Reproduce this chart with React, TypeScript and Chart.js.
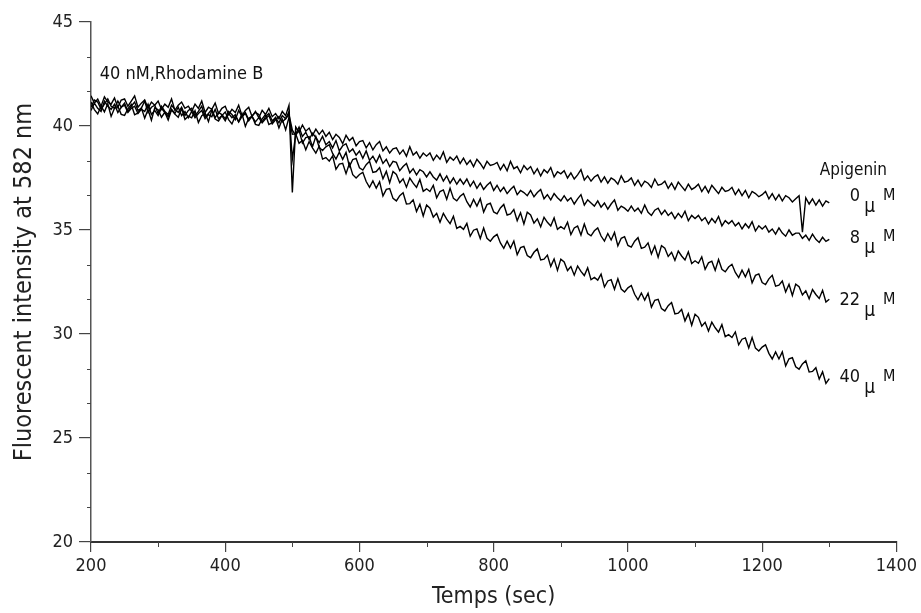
import React, { useEffect, useRef } from "react";
import { Chart, registerables } from "chart.js";

Chart.register(...registerables);

const FONT = "'DejaVu Sans Condensed', 'DejaVu Sans', sans-serif";

// sampling times (sec)
const times = [
  200, 205, 210, 215, 220, 225, 230, 235, 240, 245,
  250, 255, 260, 265, 270, 275, 280, 285, 290, 295,
  300, 305, 310, 315, 320, 325, 330, 335, 340, 345,
  350, 355, 360, 365, 370, 375, 380, 385, 390, 395,
  400, 405, 410, 415, 420, 425, 430, 435, 440, 445,
  450, 455, 460, 465, 470, 475, 480, 485, 490, 495,
  500,
  505, 510, 515, 520, 525, 530, 535, 540, 545, 550,
  555, 560, 565, 570, 575, 580, 585, 590, 595, 600,
  605, 610, 615, 620, 625, 630, 635, 640, 645, 650,
  655, 660, 665, 670, 675, 680, 685, 690, 695, 700,
  705, 710, 715, 720, 725, 730, 735, 740, 745, 750,
  755, 760, 765, 770, 775, 780, 785, 790, 795, 800,
  805, 810, 815, 820, 825, 830, 835, 840, 845, 850,
  855, 860, 865, 870, 875, 880, 885, 890, 895, 900,
  905, 910, 915, 920, 925, 930, 935, 940, 945, 950,
  955, 960, 965, 970, 975, 980, 985, 990, 995, 1000,
  1005, 1010, 1015, 1020, 1025, 1030, 1035, 1040, 1045, 1050,
  1055, 1060, 1065, 1070, 1075, 1080, 1085, 1090, 1095, 1100,
  1105, 1110, 1115, 1120, 1125, 1130, 1135, 1140, 1145, 1150,
  1155, 1160, 1165, 1170, 1175, 1180, 1185, 1190, 1195, 1200,
  1205, 1210, 1215, 1220, 1225, 1230, 1235, 1240, 1245, 1250,
  1255, 1260, 1265, 1270, 1275, 1280, 1285, 1290, 1295, 1300,
];

// Apigenin 0 µM
const apigenin0 = [
  41.45, 41.10, 41.30, 40.95, 41.40, 41.15, 41.05, 41.35, 40.90, 41.25,
  41.30, 40.95, 41.20, 41.45, 40.90, 41.10, 41.25, 40.85, 41.15, 41.00,
  41.20, 40.80, 41.05, 40.90, 41.30, 40.75, 41.00, 41.15, 40.85, 40.95,
  40.70, 41.05, 40.85, 41.20, 40.65, 40.90, 40.80, 41.10, 40.60, 40.85,
  40.95, 40.55, 40.80, 40.65, 41.00, 40.50, 40.75, 40.90, 40.45, 40.70,
  40.40, 40.75, 40.55, 40.85, 40.45, 40.60, 40.35, 40.70, 40.50, 41.00,
  36.80,
  39.95, 39.70, 40.05, 39.75, 39.90, 39.55, 39.85, 39.60, 39.80, 39.50,
  39.70, 39.35, 39.60, 39.45, 39.15, 39.55, 39.30, 39.45, 39.05, 39.25,
  39.30, 38.95, 39.20, 38.85, 39.10, 39.25, 38.80, 39.00, 38.70, 38.90,
  38.95, 38.65, 38.85, 38.55, 39.00, 38.60, 38.75, 38.45, 38.70, 38.55,
  38.70, 38.35, 38.60, 38.40, 38.75, 38.25, 38.50, 38.35, 38.55, 38.20,
  38.45, 38.15, 38.35, 38.05, 38.40, 38.20, 37.95, 38.30, 38.10, 38.15,
  38.25, 37.90, 38.15, 37.85, 38.30, 37.95, 38.05, 37.75, 38.10, 37.90,
  38.05, 37.70, 37.95, 37.60, 37.90, 37.75, 38.00, 37.55, 37.80, 37.70,
  37.85, 37.50, 37.75, 37.45, 37.65, 37.90, 37.40, 37.60, 37.35, 37.55,
  37.65, 37.30, 37.55, 37.25, 37.50, 37.40, 37.20, 37.60, 37.30, 37.35,
  37.50, 37.15, 37.40, 37.10, 37.35, 37.25, 37.05, 37.45, 37.15, 37.20,
  37.35, 37.00, 37.25, 36.95, 37.30, 37.10, 36.90, 37.20, 36.95, 37.05,
  37.20, 36.85, 37.10, 36.80, 37.15, 36.95, 36.75, 37.05, 36.85, 36.90,
  37.05, 36.70, 36.95, 36.65, 36.90, 36.55, 36.85, 36.75, 36.60, 36.70,
  36.85, 36.50, 36.75, 36.45, 36.70, 36.40, 36.65, 36.55, 36.35, 36.50,
  36.65, 34.90, 36.55, 36.25, 36.50, 36.20, 36.45, 36.15, 36.40, 36.30,
];

// Apigenin 8 µM
const apigenin8 = [
  40.90, 41.25, 41.15, 40.80, 41.05, 41.30, 40.95, 40.85, 41.20, 40.90,
  41.10, 40.70, 40.95, 41.15, 40.75, 40.85, 41.20, 40.65, 40.90, 41.00,
  40.60, 40.95, 40.70, 40.55, 41.00, 40.80, 40.65, 40.90, 40.50, 40.75,
  40.85, 40.50, 40.70, 40.95, 40.45, 40.60, 40.80, 40.40, 40.65, 40.55,
  40.35, 40.70, 40.55, 40.30, 40.75, 40.45, 40.60, 40.25, 40.50, 40.65,
  40.55, 40.20, 40.45, 40.60, 40.25, 40.40, 40.15, 40.50, 40.35, 40.70,
  38.40,
  39.60, 39.95, 39.50, 39.70, 39.35, 39.65, 39.45, 39.20, 39.50, 39.10,
  39.25, 38.95, 39.30, 38.80, 39.05, 39.15, 38.75, 38.90, 38.60, 38.80,
  38.45, 38.80, 38.35, 38.55, 38.25, 38.60, 38.20, 38.40, 38.05, 38.30,
  38.25, 37.85, 38.05, 38.20, 37.75, 37.95, 37.65, 37.90, 37.80, 37.55,
  37.80, 37.55, 37.40, 37.70, 37.35, 37.60, 37.25, 37.50, 37.20, 37.45,
  37.20, 37.45, 37.10, 37.35, 37.00, 37.25, 36.95, 37.15, 37.30, 36.90,
  37.15, 36.85, 37.05, 36.75, 36.95, 37.10, 36.70, 36.90, 36.80, 36.65,
  36.90, 36.60, 36.80, 36.95, 36.50, 36.70, 36.45, 36.75, 36.55, 36.40,
  36.65, 36.40, 36.55, 36.25, 36.50, 36.70, 36.20, 36.45, 36.30, 36.15,
  36.40, 36.10, 36.30, 36.00, 36.25, 36.45, 35.95, 36.15, 36.05, 35.90,
  36.15, 35.90, 36.05, 35.80, 36.20, 35.85, 35.70, 35.95, 36.05, 35.75,
  35.95, 35.70, 35.85, 35.55, 35.80, 35.60, 35.90, 35.45, 35.70, 35.55,
  35.70, 35.45, 35.60, 35.30, 35.55, 35.35, 35.65, 35.20, 35.45, 35.30,
  35.45, 35.20, 35.35, 35.05, 35.30, 35.10, 35.40, 34.95, 35.20, 35.05,
  35.20, 34.90, 35.05, 34.80, 35.10, 34.85, 34.70, 35.00, 34.75, 34.85,
  34.85, 34.60, 34.75, 34.50, 34.80, 34.55, 34.40, 34.65, 34.45, 34.55,
];

// Apigenin 22 µM
const apigenin22 = [
  40.75, 41.10, 40.85, 40.70, 41.20, 40.95, 40.80, 41.05, 40.65, 40.90,
  41.00, 40.65, 40.85, 40.95, 40.60, 40.80, 40.70, 41.05, 40.55, 40.75,
  40.50, 40.85, 40.65, 40.45, 40.80, 40.60, 40.90, 40.50, 40.70, 40.40,
  40.70, 40.40, 40.60, 40.75, 40.35, 40.55, 40.45, 40.80, 40.35, 40.50,
  40.25, 40.60, 40.40, 40.55, 40.20, 40.45, 40.65, 40.30, 40.45, 40.20,
  40.40, 40.15, 40.35, 40.50, 40.10, 40.30, 40.45, 40.20, 40.35, 40.55,
  39.80,
  39.55, 39.81, 39.18, 39.44, 39.49, 39.00, 39.49, 38.97, 38.82, 39.00,
  39.10, 38.68, 38.41, 38.74, 38.40, 38.73, 38.06, 38.39, 38.44, 37.99,
  37.88, 38.14, 38.30, 37.77, 37.81, 38.00, 37.46, 37.82, 37.27, 37.81,
  37.67, 37.27, 37.46, 37.06, 37.50, 37.25, 37.05, 37.43, 36.86, 36.98,
  36.85, 37.15, 36.55, 36.85, 36.93, 36.48, 37.00, 36.52, 36.40, 36.62,
  36.75, 36.36, 36.11, 36.47, 36.15, 36.51, 35.86, 36.22, 36.29, 35.87,
  35.78, 36.06, 36.23, 35.72, 35.77, 35.98, 35.45, 35.83, 35.29, 35.85,
  35.72, 35.33, 35.54, 35.15, 35.61, 35.37, 35.19, 35.58, 35.03, 35.16,
  35.05, 35.37, 34.78, 35.10, 35.19, 34.76, 35.29, 34.83, 34.72, 34.96,
  35.10, 34.71, 34.47, 34.83, 34.52, 34.88, 34.24, 34.60, 34.68, 34.26,
  34.18, 34.46, 34.63, 34.12, 34.17, 34.38, 33.85, 34.23, 33.69, 34.25,
  34.12, 33.73, 33.93, 33.54, 33.99, 33.75, 33.56, 33.95, 33.39, 33.52,
  33.40, 33.71, 33.11, 33.42, 33.50, 33.06, 33.58, 33.11, 32.99, 33.22,
  33.35, 32.96, 32.71, 33.07, 32.75, 33.11, 32.46, 32.82, 32.89, 32.47,
  32.38, 32.65, 32.82, 32.30, 32.35, 32.55, 32.02, 32.39, 31.85, 32.40,
  32.27, 31.88, 32.08, 31.69, 32.14, 31.90, 31.71, 32.10, 31.54, 31.67,
];

// Apigenin 40 µM
const apigenin40 = [
  41.15, 40.79, 40.58, 40.96, 40.68, 41.07, 40.46, 40.85, 40.95, 40.56,
  40.51, 40.82, 41.03, 40.54, 40.63, 40.87, 40.38, 40.79, 40.28, 40.87,
  40.78, 40.42, 40.66, 40.29, 40.78, 40.57, 40.42, 40.84, 40.31, 40.47,
  40.39, 40.73, 40.17, 40.50, 40.62, 40.21, 40.77, 40.33, 40.24, 40.50,
  40.67, 40.31, 40.10, 40.48, 40.20, 40.59, 39.98, 40.37, 40.47, 40.08,
  40.03, 40.34, 40.55, 40.07, 40.16, 40.40, 39.91, 40.32, 39.82, 40.41,
  39.60,
  39.62, 39.17, 39.31, 38.86, 39.25, 38.95, 38.70, 39.03, 38.41, 38.48,
  38.31, 38.56, 37.92, 38.17, 38.21, 37.71, 38.19, 37.66, 37.50, 37.67,
  37.77, 37.33, 37.05, 37.36, 37.01, 37.32, 36.64, 36.95, 36.99, 36.52,
  36.40, 36.65, 36.79, 36.25, 36.27, 36.45, 35.89, 36.24, 35.67, 36.20,
  36.05, 35.62, 35.80, 35.37, 35.80, 35.52, 35.31, 35.66, 35.08, 35.17,
  35.03, 35.32, 34.70, 34.99, 35.05, 34.59, 35.09, 34.60, 34.46, 34.67,
  34.79, 34.38, 34.12, 34.46, 34.13, 34.47, 33.81, 34.15, 34.21, 33.77,
  33.67, 33.93, 34.09, 33.56, 33.60, 33.79, 33.25, 33.61, 33.06, 33.60,
  33.46, 33.05, 33.24, 32.83, 33.27, 33.01, 32.81, 33.18, 32.61, 32.72,
  32.59, 32.88, 32.26, 32.55, 32.61, 32.15, 32.65, 32.16, 32.02, 32.22,
  32.33, 31.91, 31.64, 31.97, 31.63, 31.96, 31.29, 31.62, 31.67, 31.22,
  31.11, 31.36, 31.51, 30.97, 31.00, 31.18, 30.63, 30.98, 30.42, 30.95,
  30.80, 30.38, 30.56, 30.14, 30.57, 30.30, 30.09, 30.45, 29.87, 29.97,
  29.83, 30.10, 29.48, 29.75, 29.81, 29.33, 29.83, 29.32, 29.18, 29.37,
  29.48, 29.07, 28.80, 29.14, 28.80, 29.14, 28.47, 28.81, 28.86, 28.42,
  28.31, 28.56, 28.71, 28.17, 28.20, 28.38, 27.83, 28.18, 27.62, 27.85,
];

const xTicks = [200, 400, 600, 800, 1000, 1200, 1400];
const xTickLabels = ["200", "400", "600", "800", "1000", "1200", "1400"];
const yTicks = [20, 25, 30, 35, 40, 45];
const yTickLabels = ["20", "25", "30", "35", "40", "45"];
const xMinorTicks = [300, 500, 700, 900, 1100, 1300];
const yMinorTicks = [21.67, 23.33, 26.67, 28.33, 31.67, 33.33, 36.67, 38.33, 41.67, 43.33];

const xTitle = "Temps (sec)";
const yTitle = "Fluorescent intensity at 582 nm";
const noteText = "40 nM,Rhodamine B";
const legendTitle = "Apigenin";
const concLabels = ["0", "8", "22", "40"];
const concLabelY = [36.6, 34.6, 31.6, 27.9];

const seriesList = [apigenin0, apigenin8, apigenin22, apigenin40];

const annotPlugin = {
  id: "annot",
  afterDraw(chart: any) {
    const { ctx } = chart;
    const x = chart.scales.x;
    const y = chart.scales.y;
    ctx.save();
    // minor ticks
    ctx.strokeStyle = "#444";
    ctx.lineWidth = 1;
    const yb = y.getPixelForValue(20);
    const xl = x.getPixelForValue(200);
    xMinorTicks.forEach((v) => {
      const px = Math.round(x.getPixelForValue(v)) + 0.5;
      ctx.beginPath();
      ctx.moveTo(px, yb);
      ctx.lineTo(px, yb + 5);
      ctx.stroke();
    });
    yMinorTicks.forEach((v) => {
      const py = Math.round(y.getPixelForValue(v)) + 0.5;
      ctx.beginPath();
      ctx.moveTo(xl, py);
      ctx.lineTo(xl - 4, py);
      ctx.stroke();
    });
    // texts
    ctx.fillStyle = "#111";
    ctx.textBaseline = "middle";
    ctx.font = `18px ${FONT}`;
    ctx.textAlign = "left";
    ctx.fillText(noteText, x.getPixelForValue(213), y.getPixelForValue(42.5));
    ctx.font = `17px ${FONT}`;
    ctx.textAlign = "center";
    ctx.fillText(legendTitle, x.getPixelForValue(1336), y.getPixelForValue(37.84));
    concLabels.forEach((lab, i) => {
      const py = y.getPixelForValue(concLabelY[i]);
      ctx.font = `18px ${FONT}`;
      ctx.textAlign = "right";
      ctx.fillText(lab, x.getPixelForValue(1346), py);
      ctx.textAlign = "left";
      ctx.font = `19px ${FONT}`;
      ctx.fillText("\u03bc", x.getPixelForValue(1352), py + 10);
      ctx.font = `16px ${FONT}`;
      ctx.fillText("M", x.getPixelForValue(1380), py - 1);
    });
    ctx.restore();
  },
};

export default function App() {
  const ref = useRef<HTMLCanvasElement | null>(null);
  useEffect(() => {
    if (!ref.current) return;
    const chart = new Chart(ref.current, {
      type: "line",
      data: {
        datasets: seriesList.map((s) => ({
          data: s.map((v, i) => ({ x: times[i], y: v })),
          borderColor: "#000",
          borderWidth: 1.4,
          pointRadius: 0,
          tension: 0,
          fill: false,
        })),
      },
      options: {
        animation: false,
        responsive: true,
        maintainAspectRatio: false,
        layout: { padding: { top: 22, right: 24, left: 0, bottom: 0 } },
        plugins: { legend: { display: false }, tooltip: { enabled: false } },
        scales: {
          x: {
            type: "linear",
            min: 200,
            max: 1400,
            afterBuildTicks: (s: any) => {
              s.ticks = xTicks.map((v) => ({ value: v }));
            },
            ticks: {
              color: "#222",
              font: { family: FONT, size: 18 },
              padding: 4,
              maxRotation: 0,
              autoSkip: false,
              callback: (v: any) => xTickLabels[xTicks.indexOf(Number(v))] ?? "",
            },
            grid: { display: true, drawOnChartArea: false, drawTicks: true, tickLength: 10, color: "#444", lineWidth: 1.2 },
            border: { display: true, color: "#333", width: 2 },
            title: { display: true, text: xTitle, color: "#222", font: { family: FONT, size: 23 }, padding: { top: 0, bottom: 2 } },
            afterFit: (s: any) => {
              s.height = 71;
            },
          },
          y: {
            type: "linear",
            min: 20,
            max: 45,
            afterBuildTicks: (s: any) => {
              s.ticks = yTicks.map((v) => ({ value: v }));
            },
            ticks: {
              color: "#222",
              font: { family: FONT, size: 18 },
              padding: 6,
              callback: (v: any) => yTickLabels[yTicks.indexOf(Number(v))] ?? "",
            },
            grid: { display: true, drawOnChartArea: false, drawTicks: true, tickLength: 12, color: "#444", lineWidth: 1.2 },
            border: { display: true, color: "#555", width: 1.5 },
            title: { display: true, text: yTitle, color: "#222", font: { family: FONT, size: 25 }, padding: { top: 9, bottom: 0 } },
            afterFit: (s: any) => {
              s.width = 91;
            },
          },
        },
      },
      plugins: [annotPlugin],
    });
    return () => chart.destroy();
  }, []);
  return (
    <div style={{ position: "fixed", left: 0, top: 0, width: 921, height: 613, background: "#fff" }}>
      <canvas ref={ref} />
    </div>
  );
}
